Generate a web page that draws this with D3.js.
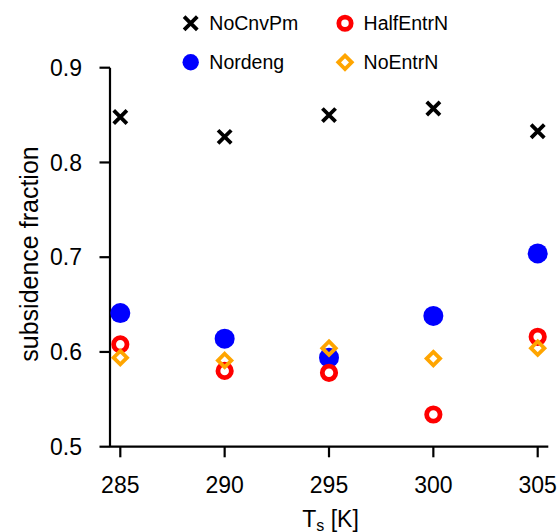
<!DOCTYPE html>
<html>
<head>
<meta charset="utf-8">
<script src="https://cdn.jsdelivr.net/npm/d3@7"></script>
<style>
  body { margin: 0; background: #fff; }
  svg { display: block; font-family: "Liberation Sans", Arial, sans-serif; }
</style>
</head>
<body>
<svg id="chart" width="558" height="532"></svg>
<script>
// surface temperatures
const temps = [285, 290, 295, 300, 305];

// subsidence fraction per experiment
const noCnvPm = [0.848, 0.827, 0.850, 0.857, 0.833];
const nordeng = [0.641, 0.614, 0.594, 0.638, 0.704];
const halfEntrN = [0.608, 0.580, 0.578, 0.534, 0.616];
const noEntrN = [0.594, 0.591, 0.604, 0.593, 0.604];

const yTicks = [0.5, 0.6, 0.7, 0.8, 0.9];
const xTicks = [285, 290, 295, 300, 305];

const series = [
  { name: 'NoCnvPm', values: noCnvPm, shape: 'cross', color: '#000' },
  { name: 'Nordeng', values: nordeng, shape: 'dot', color: '#0000ff' },
  { name: 'HalfEntrN', values: halfEntrN, shape: 'ring', color: '#ff0000' },
  { name: 'NoEntrN', values: noEntrN, shape: 'diamond', color: '#ffa500' }
];

const svg = d3.select('#chart');

const x = d3.scaleLinear().domain([285, 305]).range([120.3, 537.7]);
const y = d3.scaleLinear().domain([0.5, 0.9]).range([446.7, 67.7]);

// draw one marker at (cx, cy), s = scale
function marker(g, shape, color, cx, cy, s) {
  if (shape === 'cross') {
    const d = 6.6 * s;
    g.append('path')
      .attr('d', `M${cx - d},${cy - d}L${cx + d},${cy + d}M${cx - d},${cy + d}L${cx + d},${cy - d}`)
      .attr('stroke', color).attr('stroke-width', 3.8).attr('fill', 'none');
  } else if (shape === 'dot') {
    g.append('circle').attr('cx', cx).attr('cy', cy).attr('r', 10 * s).attr('fill', color);
  } else if (shape === 'ring') {
    g.append('circle').attr('cx', cx).attr('cy', cy).attr('r', 6.7 * s)
      .attr('fill', 'none').attr('stroke', color).attr('stroke-width', 4.8);
  } else if (shape === 'diamond') {
    const d = 6.7 * s;
    g.append('path')
      .attr('d', `M${cx},${cy - d}L${cx + d},${cy}L${cx},${cy + d}L${cx - d},${cy}Z`)
      .attr('fill', 'none').attr('stroke', color).attr('stroke-width', 3.8)
      .attr('stroke-linejoin', 'miter');
  }
}

// axes
const axisG = svg.append('g').attr('stroke', '#000').attr('stroke-width', 2.2);
axisG.append('line').attr('x1', 110).attr('x2', 110).attr('y1', y(0.9)).attr('y2', y(0.5));
axisG.append('line').attr('x1', 110).attr('x2', 548.3).attr('y1', y(0.5)).attr('y2', y(0.5));

yTicks.forEach(t => {
  axisG.append('line').attr('x1', 99.5).attr('x2', 110).attr('y1', y(t)).attr('y2', y(t));
  svg.append('text').attr('x', 82).attr('y', y(t)).attr('dy', '0.36em')
    .attr('text-anchor', 'end').attr('font-size', 23).text(t.toFixed(1));
});

xTicks.forEach(t => {
  axisG.append('line').attr('x1', x(t)).attr('x2', x(t)).attr('y1', y(0.5)).attr('y2', 457.3);
  svg.append('text').attr('x', x(t)).attr('y', 492.7)
    .attr('text-anchor', 'middle').attr('font-size', 23).text(t);
});

// axis titles
const xt = svg.append('text').attr('x', 330.5).attr('y', 526.5)
  .attr('text-anchor', 'middle').attr('font-size', 23);
xt.append('tspan').text('T');
xt.append('tspan').attr('font-size', 16).attr('dy', 4).text('s');
xt.append('tspan').attr('dy', -4).text(' [K]');

svg.append('text')
  .attr('transform', 'translate(38,254) rotate(-90)')
  .attr('text-anchor', 'middle').attr('font-size', 25)
  .text('subsidence fraction');

// points
const pts = svg.append('g');
series.forEach(s => {
  s.values.forEach((v, i) => marker(pts, s.shape, s.color, x(temps[i]), y(v), 1));
});

// legend, markers a bit smaller than in the plot
const legendPos = [[190.7, 23.3], [190.7, 62.3], [345, 23.3], [345, 62.3]];
const legendScale = { cross: 1, dot: 0.82, ring: 0.92, diamond: 1 };
const lg = svg.append('g');
series.forEach((s, i) => {
  const [lx, ly] = legendPos[i];
  marker(lg, s.shape, s.color, lx, ly, legendScale[s.shape]);
  lg.append('text').attr('x', lx + 18.6).attr('y', ly).attr('dy', '0.36em')
    .attr('font-size', 19.5).text(s.name);
});
</script>
</body>
</html>
